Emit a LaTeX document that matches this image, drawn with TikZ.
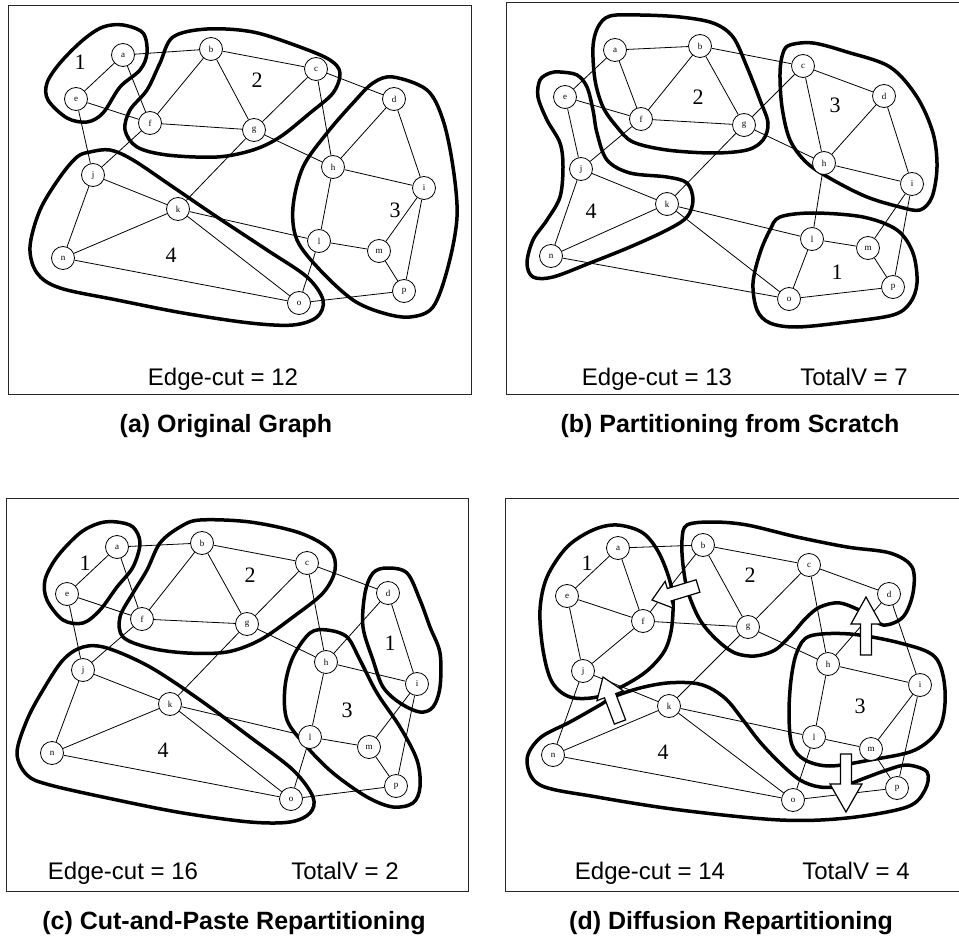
\documentclass[tikz,border=0pt]{standalone}
\usepackage{fontspec}
\setmainfont{Liberation Serif}
\setsansfont{Liberation Sans}
\usetikzlibrary{calc}
\pgfdeclarelayer{back}
\pgfdeclarelayer{bg}
\pgfsetlayers{back,bg,main}
\tikzset{
  vtx/.style={circle, draw, fill=white, minimum size=23pt, inner sep=0pt, line width=0.8pt, font=\fontsize{9}{9}\selectfont},
  edge/.style={line width=0.8pt},
  blob/.style={line width=3.5pt, line join=round},
  plabel/.style={font=\fontsize{22}{22}\selectfont, inner sep=0pt},
  stat/.style={font=\sffamily\fontsize{24}{24}\selectfont, anchor=base, inner sep=0pt},
  caption/.style={font=\sffamily\bfseries\fontsize{25}{25}\selectfont, anchor=base, inner sep=0pt},
  panelbox/.style={line width=0.9pt, draw=black!85},
  blockarr/.style={draw, fill=white, line width=1.2pt, line join=miter}
}
\newcommand\gnodes[2]{\foreach \n/\x/\y in {#2} \node[vtx] (#1\n) at (\x,\y) {\n};}
\newcommand\gedges[1]{\begin{pgfonlayer}{bg}\foreach \u/\v in {a/b,a/e,a/f,b/f,b/g,b/c,c/g,c/d,c/h,d/h,d/i,e/f,e/j,f/g,f/j,g/h,g/k,h/i,h/l,i/m,i/p,j/k,j/n,k/n,k/l,k/o,l/m,l/o,m/p,n/o,o/p} \draw[edge] (#1\u) -- (#1\v);\end{pgfonlayer}}
\newcommand\blob[1]{\begin{pgfonlayer}{bg}\draw[blob] plot[smooth cycle, tension=0.55] coordinates {#1};\end{pgfonlayer}}
\newcommand\barrow[5]{%
  \coordinate (#1b) at ($(#2)!#5!(#1)$);
  \draw[blockarr] ($(#1)!#3!90:(#2)$) -- ($(#1b)!#3!-90:(#1)$) -- ($(#1b)!#4!-90:(#1)$) -- (#2) -- ($(#1b)!#4!90:(#1)$) -- ($(#1b)!#3!90:(#1)$) -- ($(#1)!#3!-90:(#2)$) -- cycle;}
\begin{document}
\begin{tikzpicture}[x=1pt,y=-1pt]
\useasboundingbox (0,0) rectangle (959,936);
\begin{pgfonlayer}{back}
\fill[white] (0,0) rectangle (959,936);
\end{pgfonlayer}
% ---------- panel boxes ----------
\draw[panelbox] (8,5) rectangle (471,394);
\draw[panelbox] (959,2) -- (506,2) -- (506,394) -- (959,394);
\draw[panelbox] (6,498) rectangle (468,891);
\draw[panelbox] (959,498) -- (505,498) -- (505,891) -- (959,891);
% ---------- (a) ----------
\gnodes{P}{a/123/55, b/211/49, c/316/69, d/394/99, e/76/99, f/150/123, g/254/130, h/333/167, i/424/188, j/93/175, k/178/209, l/319/241, m/379/251, n/63/258, o/299/303, p/404/291}
\gedges{P}
\blob{(123,25) (143,33) (147,53) (140,70) (120,87) (103,113) (87,122) (67,118) (48,100) (47,83) (60,63) (83,40) (103,27)}
\blob{(173,37) (207,29) (253,32) (300,47) (330,60) (340,73) (333,93) (310,113) (280,137) (253,150) (217,157) (167,155) (137,147) (125,130) (130,110) (147,90) (160,63)}
\blob{(393,77) (427,90) (443,120) (453,167) (457,217) (448,267) (433,307) (410,317) (383,313) (353,300) (320,270) (297,240) (293,207) (303,167) (327,133) (353,103) (373,83)}
\blob{(90,152) (110,150) (133,160) (173,187) (217,217) (267,250) (307,277) (323,300) (317,317) (293,325) (250,323) (183,313) (117,300) (60,288) (37,273) (30,247) (40,210) (60,177) (77,157)}
\node[plabel] (la1) at (80,62) {1};
\node[plabel] (la2) at (257,80) {2};
\node[plabel] (la3) at (395,210) {3};
\node[plabel] (la4) at (171,255) {4};
\node[stat] (sa) at (223,385) {Edge-cut = 12};
\node[caption] (ca) at (226,432) {(a) Original Graph};
% ---------- (b) ----------
\gnodes{Q}{a/615/50, b/700/46, c/803/66, d/884/96, e/565/97, f/641/119, g/744/125, h/824/163, i/912/184, j/581/169, k/667/204, l/812/239, m/868/248, n/551/256, o/789/299, p/893/287}
\gedges{Q}
\blob{(610,16) (640,15) (680,17) (713,23) (733,37) (747,67) (760,100) (768,123) (763,140) (747,150) (713,153) (667,150) (633,142) (617,127) (603,107) (595,80) (593,47) (598,27)}
\blob{(790,45) (813,43) (847,52) (890,67) (917,97) (933,133) (937,167) (932,197) (920,210) (900,207) (867,197) (833,180) (807,163) (790,140) (782,107) (780,73) (783,53)}
\blob{(780,217) (813,213) (863,217) (897,230) (913,253) (917,283) (910,303) (893,315) (847,322) (797,327) (770,323) (757,310) (753,283) (760,253) (770,230)}
\blob{(560,72) (577,75) (587,87) (593,110) (597,133) (607,160) (630,173) (667,177) (687,183) (693,200) (687,217) (667,230) (630,247) (590,263) (553,277) (533,277) (527,263) (533,240) (547,220) (560,197) (563,167) (560,143) (547,120) (538,97) (540,80) (550,73)}
\node[plabel] (lb2) at (698,97) {2};
\node[plabel] (lb3) at (835,105) {3};
\node[plabel] (lb1) at (837,272) {1};
\node[plabel] (lb4) at (591,211) {4};
\node[stat] (sb1) at (657,385) {Edge-cut = 13};
\node[stat] (sb2) at (854,385) {TotalV = 7};
\node[caption] (cb) at (730,432) {(b) Partitioning from Scratch};
% ---------- (c) ----------
\gnodes{R}{a/117/547, b/202/543, c/307/563, d/388/593, e/67/594, f/142/619, g/247/624, h/326/662, i/417/684, j/83/670, k/170/704, l/310/737, m/369/747, n/52/753, o/291/799, p/396/786}
\gedges{R}
\blob{(117,522) (133,527) (140,543) (133,567) (117,587) (100,610) (83,623) (63,620) (47,600) (45,580) (57,557) (80,533) (100,523)}
\blob{(200,520) (250,522) (300,533) (330,550) (335,570) (323,593) (293,617) (260,640) (227,652) (187,653) (150,648) (123,637) (120,617) (133,593) (147,570) (160,543) (180,527)}
\blob{(387,568) (407,573) (420,600) (430,627) (440,653) (440,687) (433,707) (420,712) (400,703) (383,687) (373,660) (363,627) (365,593) (373,573)}
\blob{(327,630) (347,637) (360,660) (377,693) (400,727) (417,760) (420,787) (413,803) (393,807) (367,797) (333,773) (307,747) (287,720) (285,687) (293,657) (310,633)}
\blob{(83,647) (107,648) (150,667) (200,700) (250,737) (293,770) (313,797) (310,813) (290,822) (250,822) (183,813) (117,800) (50,785) (27,775) (17,753) (27,720) (43,690) (63,660)}
\node[plabel] (lc1) at (85,563) {1};
\node[plabel] (lc2) at (250,575) {2};
\node[plabel] (lc1b) at (390,643) {1};
\node[plabel] (lc3) at (347,710) {3};
\node[plabel] (lc4) at (163,750) {4};
\node[stat] (sc1) at (123,879) {Edge-cut = 16};
\node[stat] (sc2) at (345,879) {TotalV = 2};
\node[caption] (cc) at (234,929) {(c) Cut-and-Paste Repartitioning};
% ---------- (d) ----------
\gnodes{S}{a/618/548, b/703/545, c/809/565, d/889/594, e/567/596, f/643/621, g/748/627, h/828/664, i/920/685, j/583/671, k/669/706, l/814/737, m/871/749, n/553/755, o/793/800, p/897/788}
\gedges{S}
\blob{(617,525) (643,533) (660,555) (672,590) (672,625) (665,650) (648,670) (625,685) (597,697) (570,697) (552,682) (543,650) (540,610) (547,577) (567,547) (593,530)}
\blob{(687,525) (713,522) (747,525) (797,537) (847,547) (890,553) (912,567) (913,593) (903,617) (883,625) (865,613) (840,603) (820,607) (806,618) (792,634) (775,650) (755,656) (735,653) (717,640) (700,620) (688,592) (683,565) (682,540)}
\blob{(810,636) (850,634) (900,643) (935,657) (945,690) (940,727) (915,750) (870,760) (830,766) (805,760) (792,745) (789,715) (791,680) (797,652)}
\blob{(527,760) (540,738) (570,722) (600,705) (613,697) (640,688) (667,683) (693,683) (710,688) (727,700) (743,720) (760,742) (780,763) (800,780) (820,787) (843,786) (865,778) (887,770) (907,765) (927,772) (925,790) (907,807) (847,818) (780,820) (680,810) (597,797) (540,785)}
\node[plabel] (ld1) at (587,563) {1};
\node[plabel] (ld2) at (750,575) {2};
\node[plabel] (ld3) at (860,706) {3};
\node[plabel] (ld4) at (663,752) {4};
\coordinate (A1t) at (698,586); \coordinate (A1h) at (652,600);
\coordinate (A2t) at (866,655); \coordinate (A2h) at (866,597);
\coordinate (A3t) at (620,722); \coordinate (A3h) at (603,677);
\coordinate (A4t) at (846,754); \coordinate (A4h) at (846,812);
\barrow{A1t}{A1h}{6.5pt}{14pt}{18pt}
\barrow{A2t}{A2h}{5.5pt}{15pt}{27pt}
\barrow{A3t}{A3h}{6pt}{14pt}{20pt}
\barrow{A4t}{A4h}{5.5pt}{16pt}{28pt}
\node[stat] (sd1) at (650,879) {Edge-cut = 14};
\node[stat] (sd2) at (856,879) {TotalV = 4};
\node[caption] (cd) at (731,929) {(d) Diffusion Repartitioning};
\end{tikzpicture}
\end{document}
